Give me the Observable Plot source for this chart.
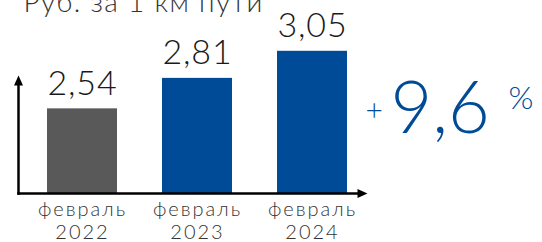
<!DOCTYPE html>
<html>
<head>
<meta charset="utf-8">
<script src="https://cdn.jsdelivr.net/npm/d3@7"></script>
<script src="https://cdn.jsdelivr.net/npm/@observablehq/plot@0.6"></script>
<style>
  html, body { margin: 0; padding: 0; background: #fff; }
  #chart svg { display: block; }
  g[aria-description="ticklabels"] text { letter-spacing: 2px; }
  g[aria-description="title"] text { letter-spacing: 1.3px; }
  g[aria-description="values"] text { letter-spacing: 0.8px; }
</style>
</head>
<body>
<div id="chart"></div>
<script>
// ---- data ----
const months = ["февраль", "февраль", "февраль"];
const years = ["2022", "2023", "2024"];
const values = [2.54, 2.81, 3.05];
const valueLabels = ["2,54", "2,81", "3,05"];
const title = "Руб. за 1 км пути";
const growthSign = "+";
const growthValue = "9,6";
const growthUnit = "%";

const data = years.map((y, i) => ({
  year: y, month: months[i], value: values[i], label: valueLabels[i]
}));

const FONT = "Lato, 'DejaVu Sans', sans-serif";
const BLUE = "#004b97";
const GRAY = "#595959";

const upHead = { draw(ctx) { ctx.moveTo(0, -10); ctx.lineTo(4.5, 0); ctx.lineTo(-4.5, 0); ctx.closePath(); } };
const rightHead = { draw(ctx) { ctx.moveTo(10, 0); ctx.lineTo(0, -4.5); ctx.lineTo(0, 4.5); ctx.closePath(); } };

const chart = Plot.plot({
  width: 542,
  height: 242,
  marginLeft: 18,
  marginRight: 180,
  marginTop: 80,
  marginBottom: 49,
  style: { fontFamily: FONT, background: "#fff" },
  x: { domain: years, range: [18, 367], paddingInner: 0.394, paddingOuter: 0.208, align: 0.583, axis: null },
  y: { domain: [1.79, 3.5], range: [193, 0], axis: null },
  marks: [
    Plot.barY(data, { x: "year", y1: 1.79, y2: "value", fill: d => d.year === years[0] ? GRAY : BLUE }),
    Plot.frame({ anchor: "left", stroke: "#000", strokeWidth: 2.5 }),
    Plot.frame({ anchor: "bottom", stroke: "#000", strokeWidth: 2.5 }),
    Plot.dot([0], { frameAnchor: "top-left", symbol: upHead, fill: "#000", stroke: null, dy: 5 }),
    Plot.dot([0], { frameAnchor: "bottom-right", symbol: rightHead, fill: "#000", stroke: null, dx: -5 }),
    Plot.text(data, { x: "year", y: "value", text: "label", dy: -14, lineAnchor: "bottom", fontSize: 34, fontWeight: 300, fill: "#1a1a1a", ariaDescription: "values" }),
    Plot.text(data, { x: "year", text: d => d.month + "\n" + d.year, frameAnchor: "bottom", lineAnchor: "top", dy: 6, fontSize: 20, fontWeight: 300, lineHeight: 1.15, fill: "#333", ariaDescription: "ticklabels" }),
    Plot.text([title], { text: d => d, frameAnchor: "top-left", textAnchor: "start", lineAnchor: "bottom", dx: 5, dy: -69, fontSize: 28, fontWeight: 300, fill: "#333", ariaDescription: "title" }),
    Plot.text([growthSign], { text: d => d, frameAnchor: "top-right", textAnchor: "start", lineAnchor: "bottom", dx: 3, dy: 40, fontSize: 30, fontWeight: 300, fill: BLUE }),
    Plot.text([growthValue], { text: d => d, frameAnchor: "top-right", textAnchor: "start", lineAnchor: "bottom", dx: 28, dy: 52, fontSize: 72, fontWeight: 300, fill: BLUE }),
    Plot.text([growthUnit], { text: d => d, frameAnchor: "top-right", textAnchor: "start", lineAnchor: "bottom", dx: 146, dy: 28, fontSize: 32, fontWeight: 300, fill: BLUE })
  ]
});
document.getElementById("chart").appendChild(chart);
</script>
</body>
</html>
